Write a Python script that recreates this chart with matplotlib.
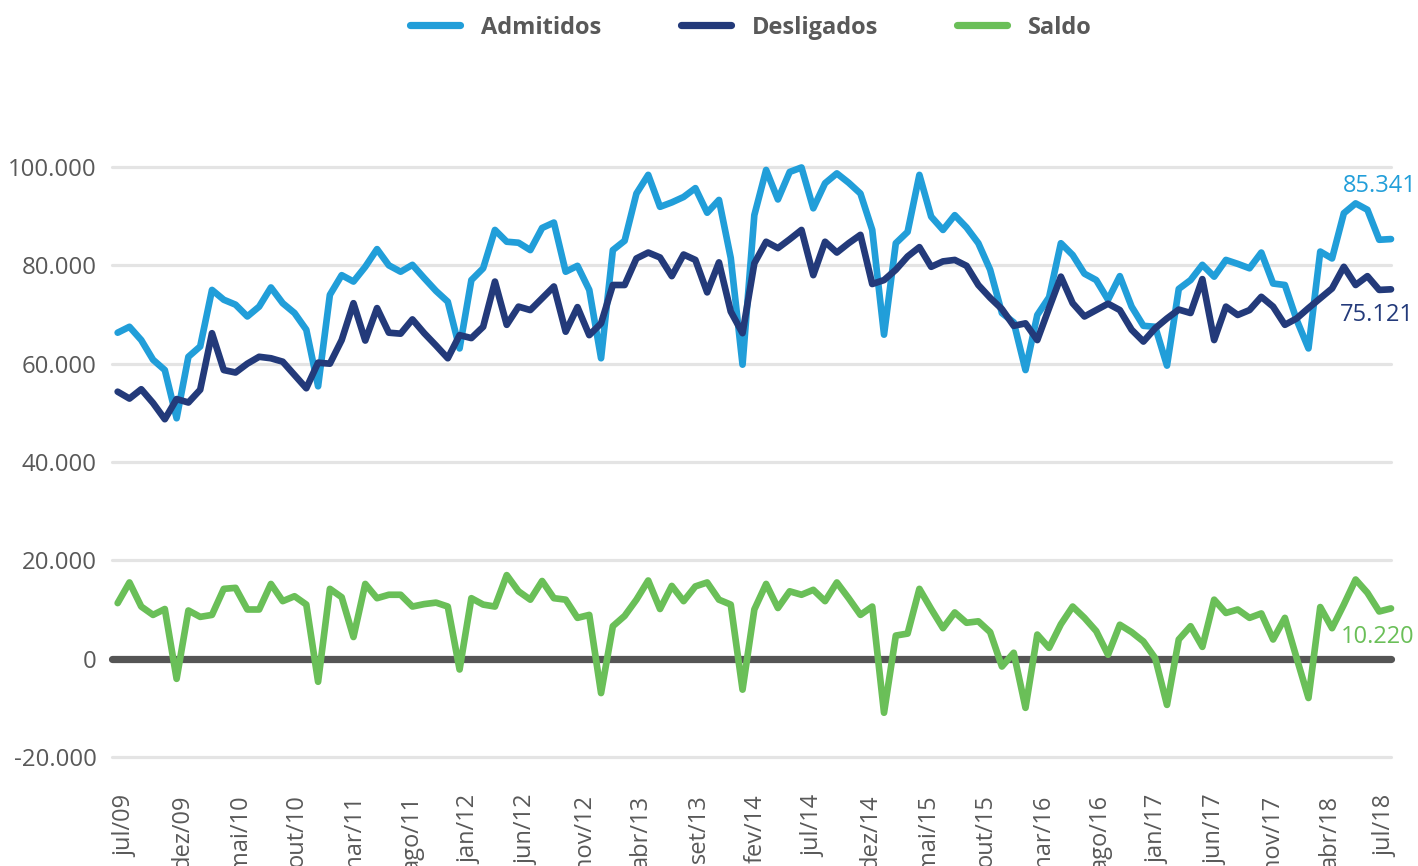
import matplotlib
matplotlib.use('Agg')
import matplotlib.pyplot as plt
from matplotlib.lines import Line2D

admitidos = [66300, 67500, 64800, 60800, 58700, 48900, 61400, 63500, 75000, 73000,
             72000, 69600, 71600, 75500, 72300, 70300, 66900, 55400, 74000, 78000,
             76700, 79700, 83300, 80000, 78700, 80100, 77400, 74800, 72600, 63100,
             77000, 79400, 87200, 84800, 84600, 83100, 87600, 88700, 78700, 79900,
             75000, 61100, 83100, 85000, 94600, 98400, 91900, 92800, 93900, 95700,
             90700, 93300, 81500, 59800, 90200, 99400, 93400, 99000, 99900, 91600,
             96700, 98700, 96800, 94600, 87200, 65900, 84500, 86800, 98400, 89900,
             87200, 90200, 87700, 84500, 79100, 70300, 68400, 58700, 69900, 73500,
             84500, 82100, 78300, 77000, 73000, 77800, 71600, 67700, 67500, 59600,
             75200, 77000, 80100, 77700, 81100, 80300, 79400, 82600, 76300, 76000,
             68900, 63100, 82800, 81400, 90600, 92600, 91300, 85200, 85341]

desligados = [54300, 52900, 54800, 52000, 48700, 52800, 52100, 54700, 66200, 58700,
              58200, 60000, 61400, 61100, 60400, 57700, 55000, 60200, 60000, 64800,
              72300, 64700, 71300, 66300, 66100, 69000, 66200, 63700, 61100, 65800,
              65200, 67500, 76700, 67900, 71600, 70900, 73300, 75700, 66500, 71500,
              65800, 68200, 76000, 76000, 81400, 82600, 81600, 77800, 82200, 81100,
              74500, 80600, 70600, 66200, 80400, 84800, 83500, 85300, 87200, 78000,
              84800, 82600, 84500, 86200, 76200, 77000, 79100, 81800, 83700, 79700,
              80800, 81100, 79900, 76000, 73400, 71100, 67700, 68200, 64800, 71300,
              77700, 72300, 69600, 70900, 72200, 70900, 66900, 64500, 67200, 69200,
              71000, 70300, 77200, 64800, 71600, 69900, 70900, 73600, 71600, 67900,
              69200, 71300, 73300, 75300, 79700, 76000, 77800, 75000, 75121]

saldo = [11300, 15500, 10600, 8900, 10100, -4100, 9800, 8500, 8900, 14200,
         14400, 10000, 10000, 15200, 11700, 12700, 11000, -4700, 14200, 12500,
         4400, 15200, 12300, 13000, 13000, 10600, 11100, 11400, 10600, -2200,
         12300, 11000, 10600, 17000, 13700, 12000, 15800, 12300, 12000, 8300,
         8900, -7000, 6600, 8700, 12000, 15900, 10100, 14800, 11700, 14700,
         15500, 12000, 11000, -6300, 10000, 15200, 10300, 13700, 13000, 14000,
         11700, 15500, 12300, 8900, 10600, -11000, 4700, 5100, 14200, 10100,
         6200, 9400, 7300, 7600, 5400, -1600, 1200, -10000, 4900, 2200,
         7000, 10600, 8300, 5600, 800, 6900, 5400, 3500, 100, -9400,
         3900, 6600, 2400, 12000, 9300, 10000, 8300, 9200, 3900, 8300,
         100, -8000, 10500, 6200, 11000, 16100, 13400, 9600, 10220]

tick_labels = ['jul/09', 'dez/09', 'mai/10', 'out/10', 'mar/11', 'ago/11', 'jan/12',
               'jun/12', 'nov/12', 'abr/13', 'set/13', 'fev/14', 'jul/14', 'dez/14',
               'mai/15', 'out/15', 'mar/16', 'ago/16', 'jan/17', 'jun/17', 'nov/17',
               'abr/18', 'jul/18']
y_ticks = [-20000, 0, 20000, 40000, 60000, 80000, 100000]
series_names = ['Admitidos', 'Desligados', 'Saldo']
colors = ['#219ed9', '#233a7a', '#6abf58']
end_labels = ['85.341', '75.121', '10.220']

FONT = 'Open Sans'
GREY = '#595959'
W, H = 1418, 866

fig = plt.figure(figsize=(W / 100, H / 100), dpi=100)
ax = fig.add_axes([112 / W, (H - 757) / H, (1391 - 112) / W, (757 - 167) / H])
ax.set_xlim(-0.48, 108.0)
ax.set_ylim(-20000, 100000)

for v in y_ticks:
    if v != 0:
        ax.axhline(v, color='#e4e4e4', lw=2.3, solid_capstyle='round', zorder=0, clip_on=False)
ax.axhline(0, color='#555555', lw=5.2, solid_capstyle='round', zorder=1, clip_on=False)

xs = list(range(len(admitidos)))
for data, c, z in zip([admitidos, desligados, saldo], colors, [3, 4, 5]):
    ax.plot(xs, data, color=c, lw=4.8, solid_joinstyle='round', solid_capstyle='round',
            clip_on=False, zorder=z)

for sp in ax.spines.values():
    sp.set_visible(False)

ax.set_yticks(y_ticks)
ax.set_yticklabels([f'{v:,.0f}'.replace(',', '.') for v in y_ticks],
                   fontfamily=FONT, fontsize=17.3, color=GREY)
# label placement as in the reference (slightly compressed spacing, last label apart)
tick_pos = [0.62 + 0.973 * 5 * k for k in range(len(tick_labels) - 1)] + [107.5]
ax.set_xticks(tick_pos)
ax.set_xticklabels(tick_labels, rotation=90, fontfamily=FONT, fontsize=17, color=GREY)
ax.tick_params(axis='y', length=0, pad=11)
ax.tick_params(axis='x', length=0, pad=27)

# end labels
offsets = [(-11, 53), (-14, -26), (-13, -29)]
for data, c, lab, off in zip([admitidos, desligados, saldo], colors, end_labels, offsets):
    ax.annotate(lab, xy=(xs[-1], data[-1]), xytext=off, textcoords='offset pixels',
                ha='center', va='center', fontfamily=FONT, fontsize=17, color=c,
                annotation_clip=False)

# legend
leg_x = [410, 681, 957]
for name, c, lx in zip(series_names, colors, leg_x):
    yl = 1 - 25 / H
    fig.add_artist(Line2D([lx / W, (lx + 50) / W], [yl, yl], color=c, lw=5.2,
                          solid_capstyle='round', transform=fig.transFigure))
    fig.text((lx + 71) / W, 1 - 28 / H, name, ha='left', va='center', fontfamily=FONT,
             fontsize=17, fontweight='bold', color=GREY)

fig.savefig('out.png', dpi=100)
